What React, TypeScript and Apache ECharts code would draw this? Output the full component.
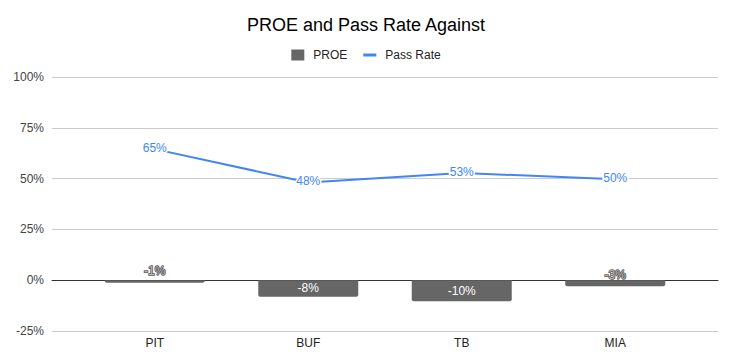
import React, { useEffect, useRef } from "react";
import * as echarts from "echarts";

const categories = ["PIT", "BUF", "TB", "MIA"];
const proeValues = [-1.2, -8.1, -10.3, -3.0];
const passRateValues = [64.5, 48.1, 52.8, 49.7];
const yTicks = { min: -25, max: 100, interval: 25 };

const FONT = "'Liberation Sans', Arial, sans-serif";

export default function App() {
  const ref = useRef<HTMLDivElement>(null);
  useEffect(() => {
    if (!ref.current) return;
    const chart = echarts.init(ref.current, undefined, { renderer: "svg" });
    const fmt = (v: number) => `${Math.round(v)}%`;
    const barData = proeValues.map((v) => {
      const small = Math.abs(v) < 5;
      return {
        value: v,
        label: small
          ? {
              show: true,
              position: "top",
              distance: v > -2 ? 3 : -1,
              color: "#b8b8b8",
              textBorderColor: "#5a5a5a",
              textBorderWidth: 1.5,
              fontSize: 12,
              fontFamily: FONT,
              formatter: (p: any) => fmt(p.value),
            }
          : {
              show: true,
              position: "inside",
              color: "#fff",
              fontSize: 12,
              fontFamily: FONT,
              formatter: (p: any) => fmt(p.value),
            },
      };
    });
    chart.setOption({
      animation: false,
      backgroundColor: "#fff",
      textStyle: { fontFamily: FONT },
      title: {
        text: "PROE and Pass Rate Against",
        left: "center",
        top: 11,
        textStyle: { fontSize: 18, fontWeight: "normal", color: "#000", fontFamily: FONT },
      },
      legend: {
        top: 44,
        left: "center",
        itemGap: 16,
        itemWidth: 13,
        itemHeight: 11,
        textStyle: { fontSize: 12, color: "#222", fontFamily: FONT, padding: [0, 0, 0, 4] },
        data: [
          { name: "PROE", icon: "rect", itemStyle: { color: "#666666" } },
          { name: "Pass Rate", icon: "path://M0,0 L13,0 L13,3 L0,3 Z", itemStyle: { color: "#4285F4" } },
        ],
      },
      grid: [
        { left: 52, right: 14, top: 77, height: 254, containLabel: false },
        { left: 78, right: 40, top: 77, height: 254, containLabel: false },
      ],
      xAxis: [
        {
          type: "category",
          gridIndex: 0,
          data: [""],
          axisLine: { show: true, onZero: true, lineStyle: { color: "#333", width: 1 } },
          axisTick: { show: false },
          axisLabel: { show: false },
          splitLine: { show: false },
        },
        {
          type: "category",
          gridIndex: 1,
          data: categories,
          axisLine: { show: false },
          axisTick: { show: false },
          axisLabel: { color: "#222", fontSize: 12, margin: 6, fontFamily: FONT },
          splitLine: { show: false },
        },
      ],
      yAxis: [
        {
          type: "value",
          gridIndex: 0,
          min: yTicks.min,
          max: yTicks.max,
          interval: yTicks.interval,
          axisLine: { show: false },
          axisTick: { show: false },
          axisLabel: { color: "#444", fontSize: 12, margin: 8, fontFamily: FONT, formatter: "{value}%" },
          splitLine: { show: true, lineStyle: { color: "#cccccc", width: 1 } },
        },
        {
          type: "value",
          gridIndex: 1,
          min: yTicks.min,
          max: yTicks.max,
          interval: yTicks.interval,
          show: false,
          splitLine: { show: false },
        },
      ],
      series: [
        {
          name: "PROE",
          type: "bar",
          xAxisIndex: 1,
          yAxisIndex: 1,
          barWidth: 100,
          itemStyle: { color: "#666666", borderRadius: [0, 0, 2, 2] },
          data: barData,
          z: 2,
        },
        {
          name: "Pass Rate",
          type: "line",
          xAxisIndex: 1,
          yAxisIndex: 1,
          data: passRateValues,
          symbol: "circle",
          symbolSize: 1,
          itemStyle: { color: "#4285F4" },
          lineStyle: { color: "#4285F4", width: 2 },
          label: {
            show: true,
            position: "inside",
            offset: [0, -1],
            color: "#4285F4",
            fontSize: 12,
            fontFamily: FONT,
            textBorderColor: "#fff",
            textBorderWidth: 3,
            formatter: (p: any) => fmt(p.value),
          },
          z: 3,
        },
      ],
    });
    return () => chart.dispose();
  }, []);
  return (
    <div
      ref={ref}
      style={{ position: "absolute", left: 0, top: 0, width: 732, height: 363 }}
    />
  );
}
